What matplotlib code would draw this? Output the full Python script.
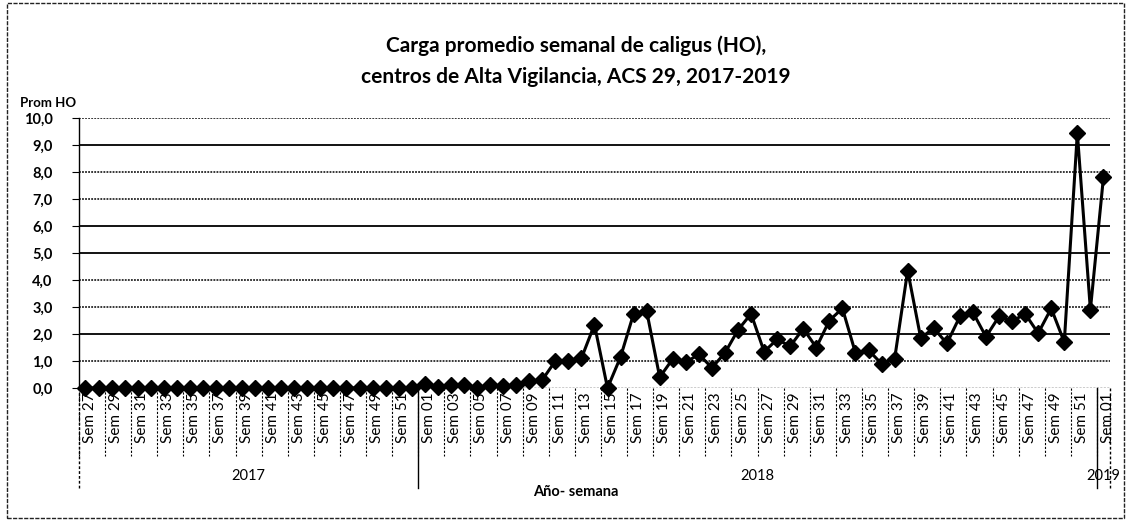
import matplotlib
matplotlib.use("Agg")
import matplotlib.pyplot as plt
from matplotlib.patches import Rectangle
import matplotlib.transforms as mtransforms

plt.rcParams['font.family'] = ['Lato', 'DejaVu Sans']

# ---------------- data ----------------
years = ["2017", "2018", "2019"]
weeks_2017 = list(range(27, 53))
weeks_2018 = list(range(1, 53))
weeks_2019 = [1]

values_2017 = [0.0] * 26
values_2018 = [0.15, 0.03, 0.10, 0.10, 0.00, 0.10, 0.08, 0.10, 0.25, 0.30,
               1.00, 1.00, 1.10, 2.35, 0.00, 1.15, 2.75, 2.85, 0.40, 1.08,
               0.95, 1.25, 0.75, 1.30, 2.15, 2.75, 1.35, 1.80, 1.55, 2.20,
               1.50, 2.50, 2.95, 1.30, 1.40, 0.90, 1.08, 4.35, 1.85, 2.22,
               1.65, 2.65, 2.80, 1.90, 2.65, 2.47, 2.75, 2.03, 2.95, 1.70,
               9.45, 2.90]
values_2019 = [7.80]

title = "Carga promedio semanal de caligus (HO),\ncentros de Alta Vigilancia, ACS 29, 2017-2019"
y_label = "Prom HO"
x_label = "Año- semana"

# ---------------- build ----------------
week_labels = [f"Sem {w:02d}" for w in weeks_2017 + weeks_2018 + weeks_2019]
values = values_2017 + values_2018 + values_2019
group_sizes = [len(weeks_2017), len(weeks_2018), len(weeks_2019)]
x = list(range(len(values)))

fig = plt.figure(figsize=(11.31, 5.20), dpi=100)
fig.patch.set_facecolor("white")
fig.add_artist(Rectangle((0.006, 0.004), 0.988, 0.99, transform=fig.transFigure,
                         fill=False, edgecolor="#222222", lw=1.0, ls=(0, (3, 1))))

ax = fig.add_axes([0.0698, 0.2538, 0.9116, 0.5192])
ax.set_xlim(-0.5, len(values) - 0.5)
ax.set_ylim(0, 10)

yt = list(range(0, 11))
ax.set_yticks(yt)
ax.set_yticklabels([f"{v:.1f}".replace(".", ",") for v in yt], fontsize=10.5, fontweight="bold")
solid = {2, 5, 6, 9}
for v in yt[1:]:
    if v in solid:
        ax.axhline(v, color="black", lw=1.3, zorder=1)
    else:
        ax.axhline(v, color="black", lw=1.1, ls=(0, (1.2, 0.8)), zorder=1)

ax.plot(x, values, color="black", lw=2.2, marker="D", ms=8, mfc="black", mec="black", zorder=3, clip_on=False)

ax.set_xticks(x[::2])
ax.set_xticklabels(week_labels[::2], rotation=90, fontsize=11, va="top")
ax.tick_params(axis="x", length=0, pad=3)
ax.tick_params(axis="y", length=5, direction="out", pad=14)
shift = mtransforms.ScaledTranslation(4.5 / 100, 0, fig.dpi_scale_trans)
for lab in ax.get_xticklabels():
    lab.set_transform(lab.get_transform() + shift)

for s in ["top", "right"]:
    ax.spines[s].set_visible(False)
ax.spines["left"].set_linewidth(1.0)
ax.spines["bottom"].set_visible(False)
ax.axhline(0, color="black", lw=1.0, ls=(0, (1.5, 1)), zorder=1)

trans = mtransforms.blended_transform_factory(ax.transData, ax.transAxes)
# category separators every two weeks
for k in range(0, len(values) + 1, 2):
    b = k - 0.5
    ax.plot([b, b], [0, -0.25], transform=trans, color="black", lw=0.8,
            ls=(0, (2, 1.5)), clip_on=False)
# year separators and year labels
start = 0
bounds = [-0.5]
for g, n in zip(years, group_sizes):
    end = start + n
    bounds.append(end - 0.5)
    ax.text((start + end - 1) / 2, -0.30, g, transform=trans, ha="center", va="top", fontsize=10.5)
    start = end
for i, b in enumerate(bounds):
    ax.plot([b, b], [0, -0.37], transform=trans, color="black",
            lw=1.0, ls="-" if 0 < i < len(bounds) - 1 else (0, (2, 1.5)), clip_on=False)

fig.text(0.509, 0.054, x_label, ha="center", va="center", fontsize=10.5, fontweight="bold")
fig.text(0.018, 0.802, y_label, ha="left", va="center", fontsize=9.5, fontweight="bold")
fig.text(0.509, 0.882, title, ha="center", va="center", fontsize=15, fontweight="bold", linespacing=1.7)

fig.savefig("out.png", dpi=100, facecolor="white")
